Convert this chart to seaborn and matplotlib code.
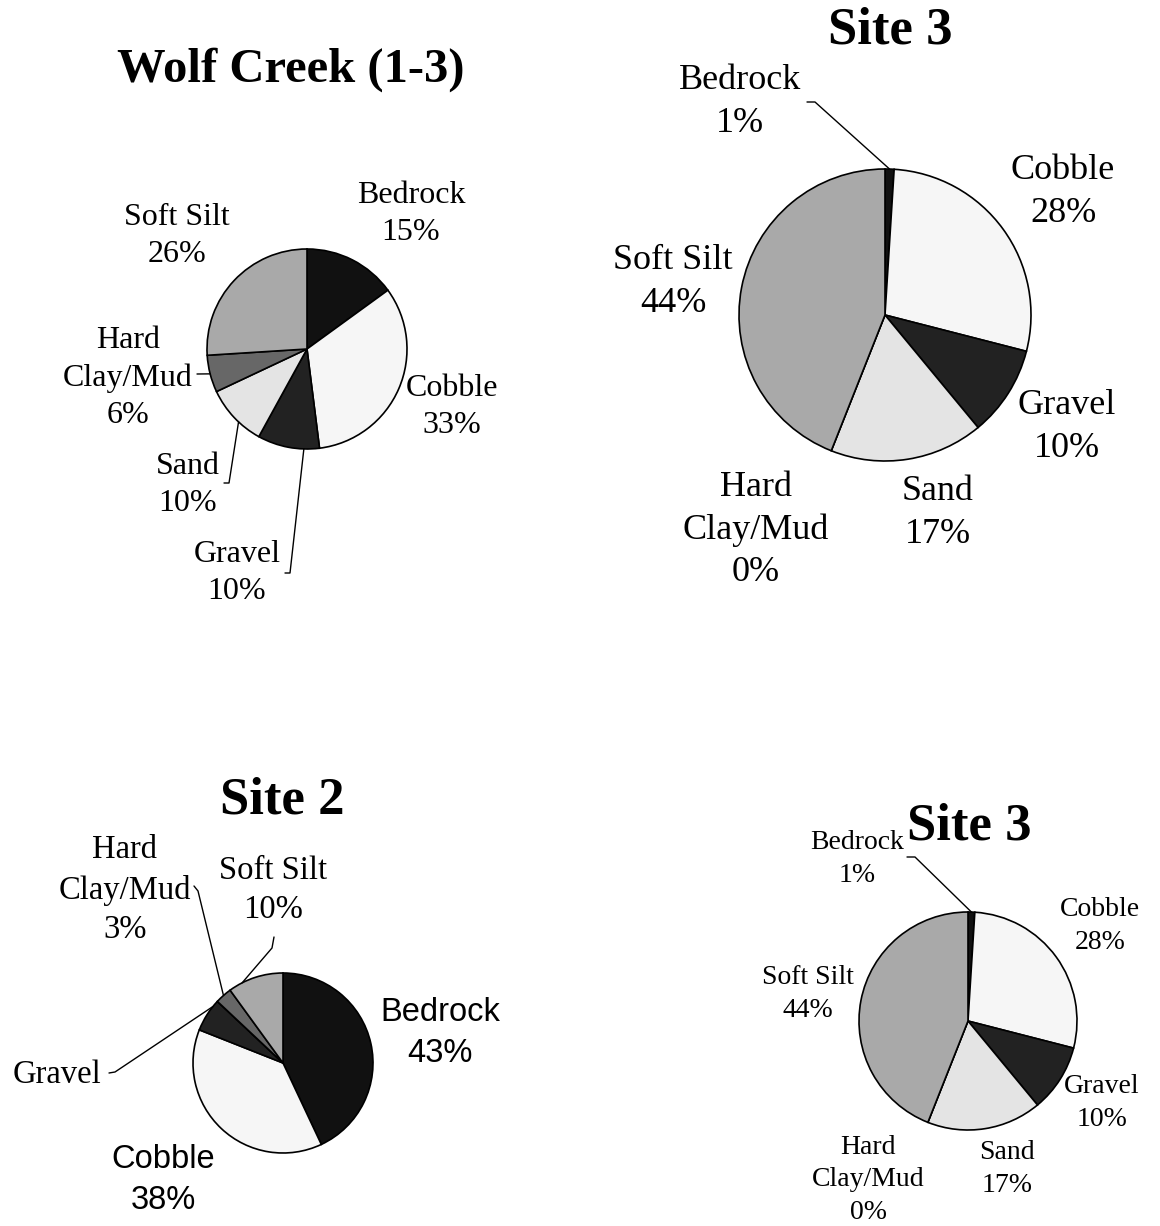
import matplotlib
matplotlib.use('Agg')
import matplotlib.pyplot as plt
from matplotlib.lines import Line2D
import numpy as np
import seaborn as sns

# substrate categories, clockwise from 12 o'clock
categories = ['Bedrock', 'Cobble', 'Gravel', 'Sand', 'Hard\nClay/Mud', 'Soft Silt']
wolf_creek = [15, 33, 10, 10, 6, 26]
site3 = [1, 28, 10, 17, 0, 44]
site2 = [43, 38, 6, 0, 3, 10]

colors = ['#111111', '#f6f6f6', '#222222', '#e4e4e4', '#676767', '#a9a9a9']

sns.set_theme(style='white')
plt.rcParams['font.family'] = ['Liberation Serif', 'DejaVu Serif']
plt.rcParams['text.color'] = 'black'

W, H = 1160, 1226
fig = plt.figure(figsize=(W / 100, H / 100), dpi=100)


def fpos(x, y):
    return x / W, 1 - y / H


def draw_pie(values, cx, cy, r):
    pad = 1.03
    ax = fig.add_axes([(cx - r * pad) / W, 1 - (cy + r * pad) / H,
                       2 * r * pad / W, 2 * r * pad / H])
    wedges, _ = ax.pie(values, colors=sns.color_palette(colors), startangle=90,
                       counterclock=False, radius=1,
                       wedgeprops=dict(edgecolor='black', linewidth=1.2))
    ax.set_xlim(-pad, pad)
    ax.set_ylim(-pad, pad)
    ax.axis('off')
    return ax, wedges


def edge_point(ax, wedge, frac=0.5):
    ang = np.deg2rad(wedge.theta1 + frac * (wedge.theta2 - wedge.theta1))
    disp = ax.transData.transform((np.cos(ang), np.sin(ang)))
    return fig.transFigure.inverted().transform(disp)


def leader(ax, wedge, pts, frac=0.5):
    xs = [fpos(*p)[0] for p in pts]
    ys = [fpos(*p)[1] for p in pts]
    ex, ey = edge_point(ax, wedge, frac)
    xs.append(ex)
    ys.append(ey)
    fig.add_artist(Line2D(xs, ys, transform=fig.transFigure, color='black', lw=1))


def label(x, y, s, size, family=None, weight='normal'):
    fx, fy = fpos(x, y)
    kw = {}
    if family:
        kw['family'] = family
    fig.text(fx, fy, s, ha='center', va='center', fontsize=size,
             weight=weight, linespacing=1.38, **kw)


def pct_label(name, v):
    return f'{name}\n{v}%'


# ---- Wolf Creek (1-3)
ax, w = draw_pie(wolf_creek, 307, 349, 100)
label(291, 70, 'Wolf Creek (1-3)', 35, weight='bold')
fs = 23
label(411, 214, pct_label(categories[0], wolf_creek[0]), fs)
label(452, 407, pct_label(categories[1], wolf_creek[1]), fs)
label(177, 236, pct_label(categories[5], wolf_creek[5]), fs)
label(128, 378, pct_label(categories[4], wolf_creek[4]), fs)
label(188, 485, pct_label(categories[3], wolf_creek[3]), fs)
label(237, 573, pct_label(categories[2], wolf_creek[2]), fs)
leader(ax, w[4], [(197, 374)])
leader(ax, w[3], [(224, 483), (229, 483)], 0.6)
leader(ax, w[2], [(285, 573), (290, 573)], 0.75)

# ---- Site 3 (top)
ax, w = draw_pie(site3, 885, 315, 146)
label(890, 30, 'Site 3', 38, weight='bold')
fs = 26
label(740, 102, pct_label(categories[0], site3[0]), fs)
label(1063, 192, pct_label(categories[1], site3[1]), fs)
label(673, 282, pct_label(categories[5], site3[5]), fs)
label(1067, 427, pct_label(categories[2], site3[2]), fs)
label(938, 513, pct_label(categories[3], site3[3]), fs)
label(756, 530, pct_label(categories[4], site3[4]), fs)
leader(ax, w[0], [(807, 102), (815, 102)])

# ---- Site 2
ax, w = draw_pie(site2, 283, 1063, 90)
label(282, 800, 'Site 2', 38, weight='bold')
fs = 23.5
label(125, 890, pct_label(categories[4], site2[4]), fs)
label(273, 890, pct_label(categories[5], site2[5]), fs)
label(57, 1075, categories[2], fs)
label(440, 1033, pct_label(categories[0], site2[0]), fs,
      family=['Liberation Sans', 'DejaVu Sans'])
label(163, 1180, pct_label(categories[1], site2[1]), fs,
      family=['Liberation Sans', 'DejaVu Sans'])
leader(ax, w[4], [(194, 886), (198, 891)])
leader(ax, w[5], [(274, 937), (272, 948)], 0.75)
leader(ax, w[2], [(109, 1073), (115, 1072)], 0.2)

# ---- Site 3 (bottom)
ax, w = draw_pie(site3, 968, 1021, 109)
label(969, 826, 'Site 3', 38, weight='bold')
fs = 20
label(857, 859, pct_label(categories[0], site3[0]), fs)
label(1100, 926, pct_label(categories[1], site3[1]), fs)
label(808, 994, pct_label(categories[5], site3[5]), fs)
label(1102, 1103, pct_label(categories[2], site3[2]), fs)
label(1007, 1169, pct_label(categories[3], site3[3]), fs)
label(868, 1180, pct_label(categories[4], site3[4]), fs)
leader(ax, w[0], [(907, 857), (915, 857)])

fig.savefig('out.png', dpi=100, facecolor='white')
